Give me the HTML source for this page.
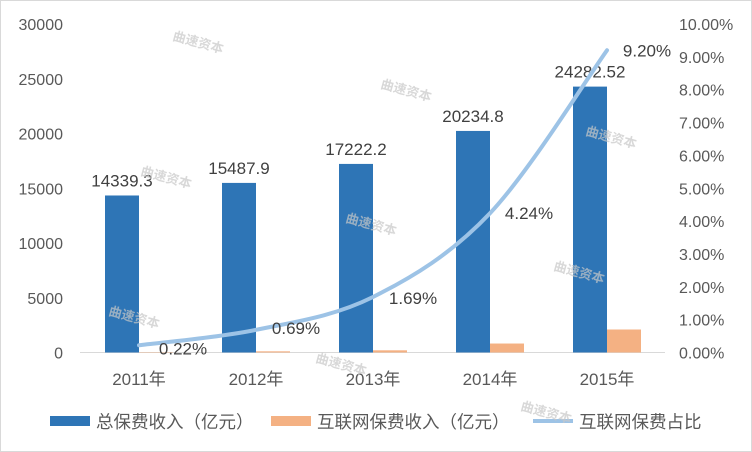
<!DOCTYPE html>
<html><head><meta charset="utf-8"><style>
body{margin:0;background:#fff;}
#c{width:752px;height:452px;position:relative;overflow:hidden;font-family:"Liberation Sans","Noto Sans CJK SC",sans-serif;}
</style></head><body>
<div id="c">
<svg id="s" width="752" height="452"></svg>
</div>
<script>
const categories=["2011年","2012年","2013年","2014年","2015年"];
const totalPremium=[14339.3,15487.9,17222.2,20234.8,24282.52];
const totalLabels=["14339.3","15487.9","17222.2","20234.8","24282.52"];
const netPremium=[32,107,200,820,2100];
const netShare=[0.22,0.69,1.69,4.24,9.20];
const leftTicks=[0,5000,10000,15000,20000,25000,30000];
const rightTicks=[0,1,2,3,4,5,6,7,8,9,10];

const NS="http://www.w3.org/2000/svg";
const s=document.getElementById('s');
const x0=80,cw=117,yb=352.5,yt=24;
const yL=v=>yb-(v/30000)*(yb-yt);
const yR=v=>yb-(v/10)*(yb-yt);
const cx=i=>x0+cw*i+cw/2+0.5;
function el(t,a,txt){const e=document.createElementNS(NS,t);for(const k in a)e.setAttribute(k,a[k]);if(txt!=null)e.textContent=txt;s.appendChild(e);return e;}
let e;
e=el('rect',{x:0.5,y:0.5,width:751,height:451,fill:'none',stroke:'#d9d9d9'});


e=el('line',{x1:x0,x2:x0+cw*5,y1:yb,y2:yb,stroke:'#d9d9d9','stroke-width':1});


leftTicks.forEach(v=>{
 e=el('text',{x:63,y:yL(v)+6,'text-anchor':'end','font-size':16,fill:'#595959'},String(v));
 
 
});
rightTicks.forEach(v=>{
 e=el('text',{x:679,y:yR(v)+6,'font-size':16,fill:'#595959'},v.toFixed(2)+'%');
 
 
});
categories.forEach((c,i)=>{
 e=el('text',{x:cx(i),y:385,'text-anchor':'middle','font-size':17,fill:'#595959'},c);
 
 
 e=el('rect',{x:cx(i)-34,y:yL(totalPremium[i]),width:34,height:yb-yL(totalPremium[i]),fill:'#2e75b6'});
 
 
 e=el('rect',{x:cx(i),y:yL(netPremium[i]),width:34,height:yb-yL(netPremium[i]),fill:'#f4b183'});
 
 
 e=el('text',{x:cx(i)-17,y:yL(totalPremium[i])-9,'text-anchor':'middle','font-size':17,fill:'#404040'},totalLabels[i]);
 
 
});
const pts=netShare.map((v,i)=>[cx(i),yR(v)]);
let d='M'+pts[0][0]+','+pts[0][1];
for(let i=0;i<pts.length-1;i++){
 const p0=pts[Math.max(0,i-1)],p1=pts[i],p2=pts[i+1],p3=pts[Math.min(pts.length-1,i+2)];
 const t=6;
 d+=' C'+(p1[0]+(p2[0]-p0[0])/t)+','+(p1[1]+(p2[1]-p0[1])/t)+' '+(p2[0]-(p3[0]-p1[0])/t)+','+(p2[1]-(p3[1]-p1[1])/t)+' '+p2[0]+','+p2[1];
}
e=el('path',{d:d,fill:'none',stroke:'#9dc3e6','stroke-width':4,'stroke-linecap':'round'});


const off=[[44,3],[40,-2],[40,1],[39,0],[40,0]];
netShare.forEach((v,i)=>{
 e=el('text',{x:pts[i][0]+off[i][0],y:pts[i][1]+off[i][1]+6,'text-anchor':'middle','font-size':17,fill:'#404040'},v.toFixed(2)+'%');
 
 
});
e=el('rect',{x:50,y:416,width:40,height:10,fill:'#2e75b6'});


e=el('text',{x:96,y:428,'font-size':17.5,fill:'#595959'},'总保费收入（亿元）');


e=el('rect',{x:271,y:416,width:40,height:10,fill:'#f4b183'});


e=el('text',{x:317,y:428,'font-size':17.5,fill:'#595959'},'互联网保费收入（亿元）');


e=el('line',{x1:533,x2:573,y1:421,y2:421,stroke:'#9dc3e6','stroke-width':4});


e=el('text',{x:579,y:428,'font-size':17.5,fill:'#595959'},'互联网保费占比');


[[172,40],[380,88],[585,135],[140,175],[345,222],[553,270],[108,315],[315,362],[520,410]].forEach(p=>{
 e=el('text',{x:p[0],y:p[1],'font-size':13,'font-weight':'bold',fill:'#c8c8c8','fill-opacity':0.7,transform:'rotate(15 '+p[0]+' '+p[1]+')'},'曲速资本');
 
 
});
</script>
</body></html>
